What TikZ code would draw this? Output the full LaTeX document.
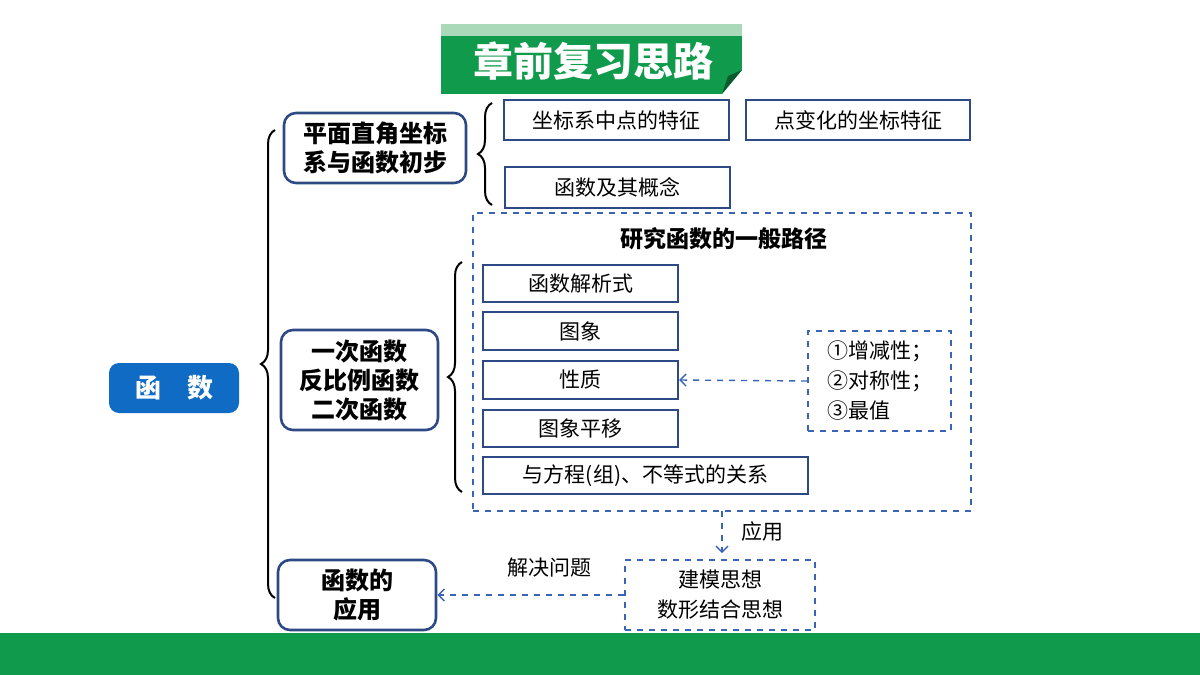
\documentclass[tikz,border=0pt]{standalone}
\usepackage{fontspec}
\setmainfont{Noto Sans CJK SC}
\usetikzlibrary{decorations.pathreplacing,arrows.meta}
\definecolor{gr}{HTML}{109A4C}
\definecolor{grl}{HTML}{A9D9B9}
\definecolor{bl}{HTML}{0F6BC4}
\definecolor{nb}{HTML}{2E4A84}
\definecolor{db}{HTML}{3A64B8}
\begin{document}
\begin{tikzpicture}[x=0.5pt,y=-0.5pt,
  rnd/.style={draw=nb,line width=1.3pt,rounded corners=6pt,font=\bfseries\fontsize{12}{14.5}\selectfont,align=center,inner sep=0pt},
  box/.style={draw=nb,line width=1.1pt,font=\fontsize{10.5}{12}\selectfont,inner sep=0pt},
  dbox/.style={draw=db,dashed,line width=0.8pt,inner sep=0pt},
  darr/.style={draw=db,dashed,line width=0.7pt,-{Straight Barb[length=3pt,width=6pt]}},
  br/.style={decorate,decoration={brace,amplitude=7pt},line width=1pt}]
\useasboundingbox (0,0) rectangle (1200,675);
% title
\fill[gr] (441,24) rectangle (742,94);
\fill[grl] (441,24) rectangle (742,36);
\fill[white] (742,70) -- (742,94) -- (722,94) -- cycle;
\fill[gr!60!black] (742,70) -- (722,94) -- (728,76) -- cycle;
\node[text=white,font=\bfseries\fontsize{20}{22}\selectfont] (title) at (593,61) {章前复习思路};
\fill[gr] (0,633) rectangle (1200,675);
% main
\node[fill=bl,rounded corners=5pt,minimum width=65pt,minimum height=25pt,text=white,font=\bfseries\fontsize{13}{15}\selectfont] (f) at (174,388) {函\quad 数};
\draw[br] (275,598) -- (275,130);
\node[rnd,minimum width=91pt,minimum height=35pt] (A) at (375,148) {平面直角坐标\\系与函数初步};
\node[rnd,minimum width=78.5pt,minimum height=50pt] (B) at (359.5,380) {一次函数\\反比例函数\\二次函数};
\node[rnd,minimum width=79pt,minimum height=35pt] (C) at (357,595) {函数的\\应用};
% first group
\draw[br] (492,205) -- (492,103);
\node[box,minimum width=112.5pt,minimum height=20pt] (b1) at (616.5,120) {坐标系中点的特征};
\node[box,minimum width=112pt,minimum height=20pt] (b2) at (858,120) {点变化的坐标特征};
\node[box,minimum width=112.5pt,minimum height=20.5pt] (b3) at (617.5,187.5) {函数及其概念};
% dashed box
\node[dbox,minimum width=249pt,minimum height=149pt] (D) at (722,362) {};
\node[font=\bfseries\fontsize{11.5}{13}\selectfont] (Dt) at (724,239) {研究函数的一般路径};
\draw[br] (462,492) -- (462,262);
\node[box,minimum width=97.5pt,minimum height=18.5pt] (p1) at (580.5,283.5) {函数解析式};
\node[box,minimum width=97.5pt,minimum height=19pt] (p2) at (580.5,331) {图象};
\node[box,minimum width=97.5pt,minimum height=19pt] (p3) at (580.5,380) {性质};
\node[box,minimum width=97.5pt,minimum height=18.5pt] (p4) at (580.5,428.5) {图象平移};
\node[box,minimum width=162.5pt,minimum height=18.5pt] (p5) at (645.5,475.5) {与方程(组)、不等式的关系};
\node[dbox,minimum width=71.5pt,minimum height=50pt,align=left,font=\fontsize{10.5}{15}\selectfont,inner xsep=4pt] (q) at (879.5,381) {①增减性；\\②对称性；\\③最值};
\draw[darr] (q.west) -- (p3.east);
% application
\node[dbox,minimum width=95pt,minimum height=35pt,align=center,font=\fontsize{10.5}{15}\selectfont] (M) at (720,595) {建模思想\\数形结合思想};
\coordinate (Db) at (722,511);
\draw[darr] (Db) -- (722,553) node[midway,right=6pt,font=\fontsize{10.5}{12}\selectfont,text=black] (ly) {应用};
\draw[darr] (M.west) -- (C.east) node[pos=0.4,above=5pt,font=\fontsize{10.5}{12}\selectfont,text=black] (lj) {解决问题};
\end{tikzpicture}
\end{document}
